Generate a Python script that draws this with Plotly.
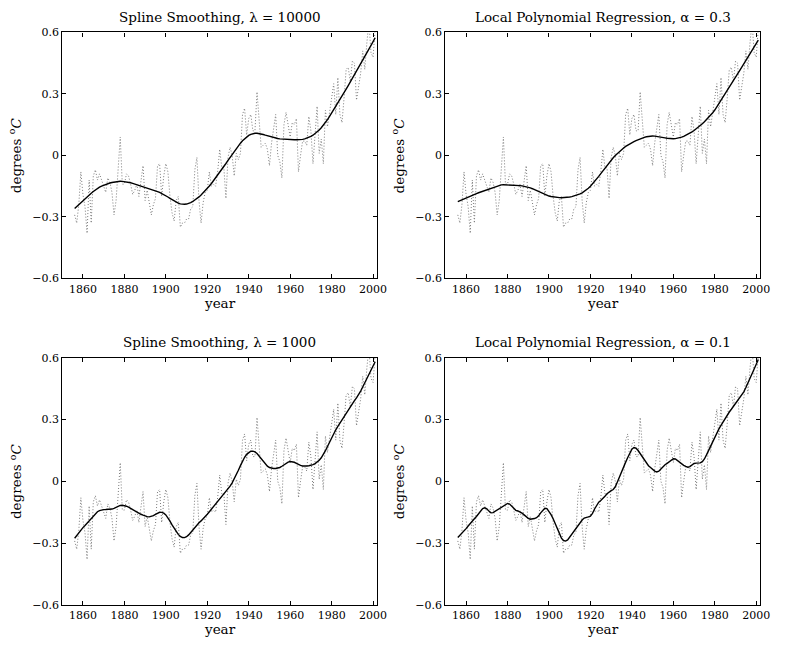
import numpy as np
import plotly.graph_objects as go

# Annual global temperature anomalies (degrees C), 1856-2001
years = list(range(1856, 2002))
anomaly = [
    -0.29, -0.33, -0.24, -0.08, -0.19, -0.25, -0.38, -0.12, -0.33, -0.10,   # 1856-1865
    -0.07, -0.12, -0.09, -0.12, -0.14, -0.18, -0.11, -0.13, -0.18, -0.29,   # 1866-1875
    -0.22, -0.04,  0.09, -0.14, -0.14, -0.09, -0.10, -0.14, -0.19, -0.17,   # 1876-1885
    -0.14, -0.20, -0.12, -0.05, -0.22, -0.17, -0.23, -0.29, -0.24, -0.21,   # 1886-1895
    -0.05, -0.04, -0.20, -0.10, -0.04, -0.08, -0.20, -0.28, -0.32, -0.22,   # 1896-1905
    -0.20, -0.35, -0.33, -0.33, -0.31, -0.31, -0.26, -0.25, -0.07, -0.01,   # 1906-1915
    -0.22, -0.33, -0.23, -0.18, -0.17, -0.08, -0.15, -0.14, -0.15, -0.08,   # 1916-1925
     0.03, -0.06, -0.06, -0.21, -0.01,  0.04,  0.00, -0.10,  0.01, -0.02,   # 1926-1935
     0.01,  0.20,  0.23,  0.10,  0.18,  0.20,  0.12,  0.12,  0.31,  0.15,   # 1936-1945
     0.04,  0.05,  0.06,  0.03, -0.05,  0.06,  0.12,  0.20,  0.00, -0.03,   # 1946-1955
    -0.11,  0.15,  0.21,  0.15,  0.09,  0.16,  0.15,  0.18, -0.08,  0.00,   # 1956-1965
     0.07,  0.07,  0.05,  0.19,  0.12, -0.04,  0.09,  0.24,  0.01,  0.08,   # 1966-1975
    -0.04,  0.22,  0.14,  0.21,  0.27,  0.35,  0.20,  0.38,  0.20,  0.16,   # 1976-1985
     0.28,  0.42,  0.43,  0.36,  0.46,  0.45,  0.27,  0.33,  0.40,  0.51,   # 1986-1995
     0.42,  0.55,  0.65,  0.50,  0.48,  0.62,                               # 1996-2001
]

# Smoothing parameters for each panel
spline_lambdas = [10000, 1000]
loess_alphas = [0.3, 0.1]

# Roughness penalty weight relative to the squared second differences
PENALTY_SCALE = 0.1

x_ticks = [1860, 1880, 1900, 1920, 1940, 1960, 1980, 2000]
y_ticks = [-0.6, -0.3, 0, 0.3, 0.6]
y_tick_text = ["\u22120.6", "\u22120.3", "0", "0.3", "0.6"]


def spline_smooth(y, lam):
    """Penalized least squares with a second-difference roughness penalty."""
    y = np.asarray(y, float)
    n = len(y)
    D = np.diff(np.eye(n), 2, axis=0)
    return np.linalg.solve(np.eye(n) + PENALTY_SCALE * lam * D.T @ D, y)


def local_poly(t, y, alpha, deg=1):
    """Local polynomial regression, tricube weights over a fraction alpha of the data."""
    t = np.asarray(t, float)
    y = np.asarray(y, float)
    n = len(y)
    k = int(np.ceil(alpha * n))
    out = np.empty(n)
    for i in range(n):
        d = np.abs(t - t[i])
        idx = np.argsort(d)[:k]
        h = d[idx].max() * 1.0001
        w = (1 - (d[idx] / h) ** 3) ** 3
        A = np.vander(t[idx] - t[i], deg + 1, increasing=True)
        sw = np.sqrt(w)
        coef, *_ = np.linalg.lstsq(A * sw[:, None], y[idx] * sw, rcond=None)
        out[i] = coef[0]
    return out


smooth = {
    (0, 0): spline_smooth(anomaly, spline_lambdas[0]),
    (1, 0): spline_smooth(anomaly, spline_lambdas[1]),
    (0, 1): local_poly(years, anomaly, loess_alphas[0]),
    (1, 1): local_poly(years, anomaly, loess_alphas[1]),
}
titles = {
    (0, 0): f"Spline Smoothing, \u03bb = {spline_lambdas[0]}",
    (1, 0): f"Spline Smoothing, \u03bb = {spline_lambdas[1]}",
    (0, 1): f"Local Polynomial Regression, \u03b1 = {loess_alphas[0]}",
    (1, 1): f"Local Polynomial Regression, \u03b1 = {loess_alphas[1]}",
}

W, H = 800, 648
col_px = [(63, 382), (451, 770)]
row_px = [(27, 278), (359, 611)]
FONT = "DejaVu Serif"

fig = go.Figure()
annotations = []
layout_axes = {}
k = 0
for r in range(2):
    for c in range(2):
        k += 1
        xa = "x" if k == 1 else f"x{k}"
        ya = "y" if k == 1 else f"y{k}"
        x0, x1 = col_px[c]
        y0, y1 = row_px[r]
        fig.add_trace(go.Scatter(
            x=years, y=anomaly, mode="lines", xaxis=xa, yaxis=ya,
            line=dict(color="#7a7a7a", width=1, dash="1px,2px"),
            showlegend=False, hoverinfo="skip"))
        fig.add_trace(go.Scatter(
            x=years, y=smooth[(r, c)], mode="lines", xaxis=xa, yaxis=ya,
            line=dict(color="black", width=1.4),
            showlegend=False))
        axis_common = dict(
            showline=True, linecolor="black", linewidth=1.2, mirror="allticks",
            ticks="inside", ticklen=4, tickwidth=1, tickcolor="black",
            showgrid=False, zeroline=False,
            tickfont=dict(family=FONT, size=11, color="black"))
        layout_axes["xaxis" if k == 1 else f"xaxis{k}"] = dict(
            axis_common, domain=[x0 / W, x1 / W], range=[1850, 2002],
            tickvals=x_ticks, anchor=ya)
        layout_axes["yaxis" if k == 1 else f"yaxis{k}"] = dict(
            axis_common, domain=[1 - y1 / H, 1 - y0 / H], range=[-0.6, 0.6],
            tickvals=y_ticks, ticktext=y_tick_text, anchor=xa)
        xc = (x0 + x1) / 2 / W
        annotations.append(dict(
            text=titles[(r, c)], x=xc, y=1 - (y0 - 16) / H, xref="paper", yref="paper",
            showarrow=False, font=dict(family=FONT, size=13.5, color="black"),
            xanchor="center", yanchor="middle"))
        annotations.append(dict(
            text="year", x=xc, y=1 - (y1 + 25) / H, xref="paper", yref="paper",
            showarrow=False, font=dict(family=FONT, size=13.5, color="black"),
            xanchor="center", yanchor="middle"))
        annotations.append(dict(
            text="degrees <sup>o</sup><i>C</i>", x=(x0 - 47) / W, y=1 - (y0 + y1) / 2 / H,
            xref="paper", yref="paper", textangle=-90, showarrow=False,
            font=dict(family=FONT, size=13.5, color="black"),
            xanchor="center", yanchor="middle"))

fig.update_layout(
    width=W, height=H, margin=dict(l=0, r=0, t=0, b=0),
    paper_bgcolor="white", plot_bgcolor="white",
    annotations=annotations, **layout_axes)

fig.write_html("out.html")
